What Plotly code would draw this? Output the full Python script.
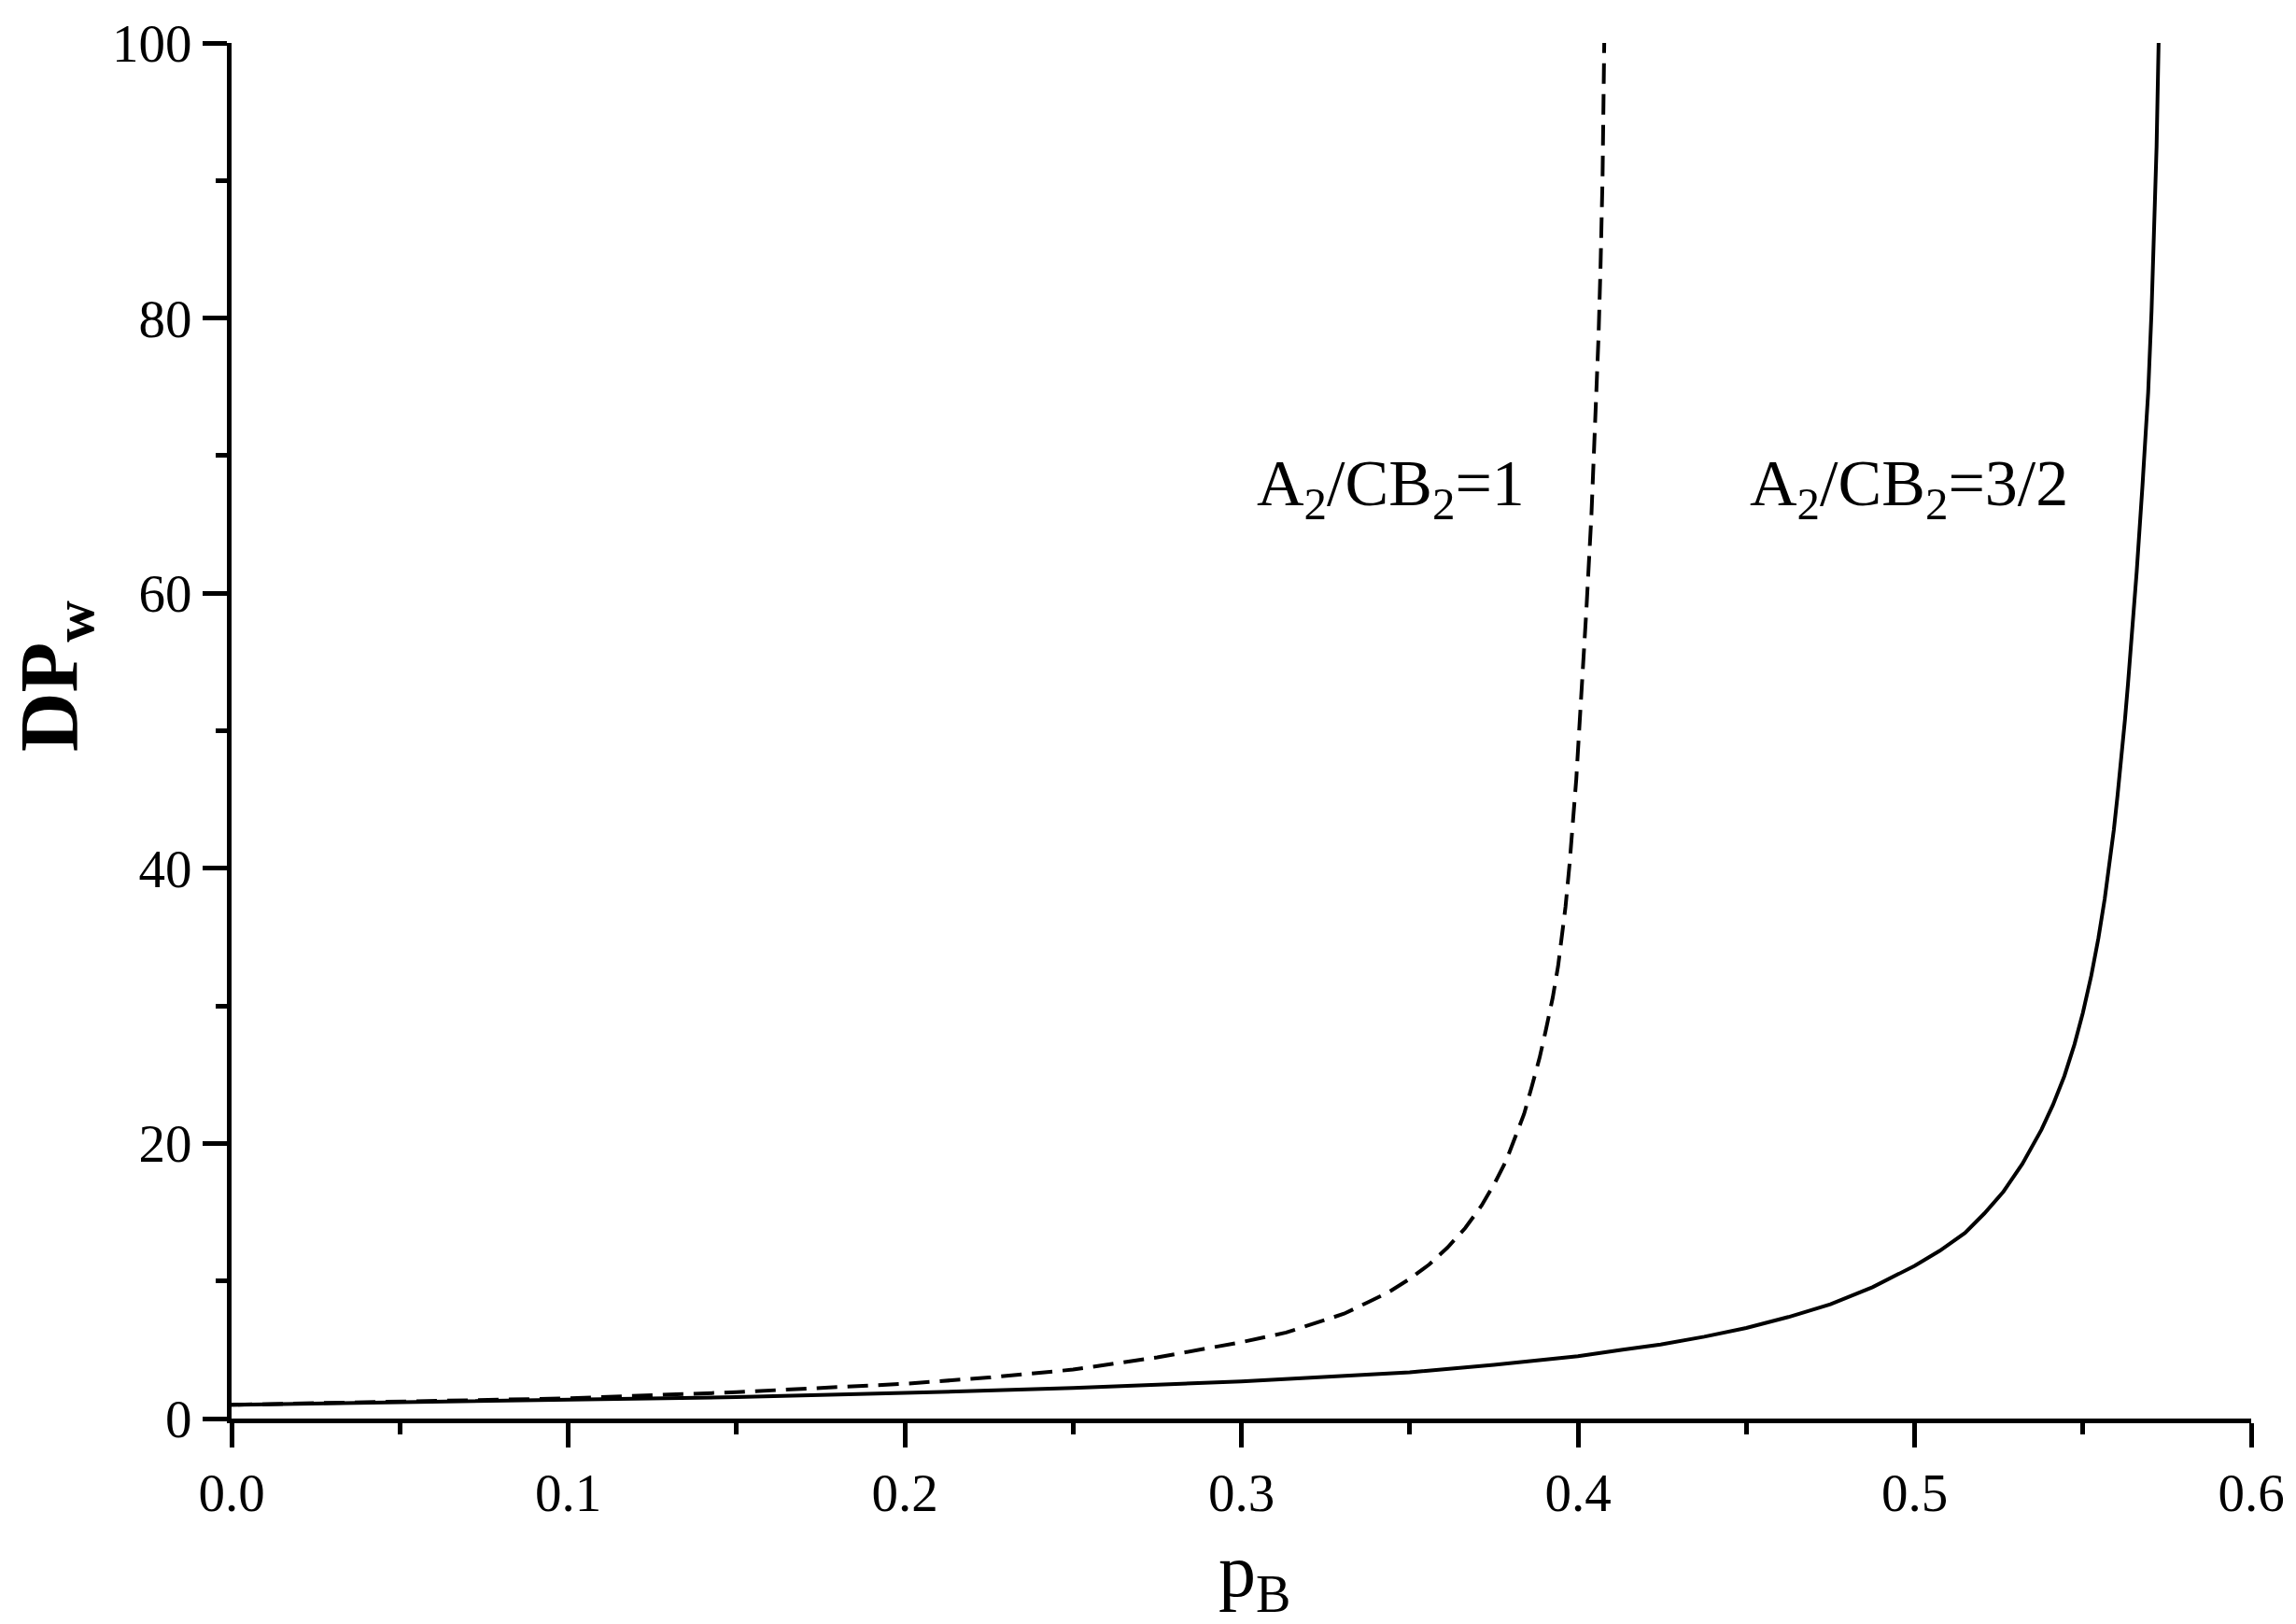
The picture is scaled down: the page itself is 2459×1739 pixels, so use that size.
import plotly.graph_objects as go

# A2/CB2 = 1 (dashed)
p_ratio1 = [0.0, 0.05, 0.10, 0.15, 0.20, 0.225, 0.25, 0.275, 0.30, 0.3133, 0.3237, 0.3305,
            0.3373, 0.3439, 0.3498, 0.3558, 0.3612, 0.3665, 0.3714, 0.3753, 0.3787, 0.3815,
            0.3840, 0.3863, 0.3886, 0.3904, 0.3925, 0.3941, 0.3953, 0.3963, 0.3975, 0.3986,
            0.3995, 0.4003, 0.4013, 0.4025, 0.4040, 0.4053, 0.4061, 0.4067, 0.4073, 0.4078]
dp_ratio1 = [1.0, 1.22, 1.47, 1.92, 2.53, 2.98, 3.56, 4.45, 5.55, 6.25, 7.06, 7.62,
             8.42, 9.21, 10.12, 11.2, 12.42, 13.85, 15.5, 17.13, 18.76, 20.52,
             22.15, 24.15, 26.23, 28.17, 30.6, 32.9, 35.0, 37.2, 40.3, 43.4,
             46.5, 49.8, 53.8, 58.8, 65.7, 72.8, 78.6, 83.7, 90.2, 100.0]

# A2/CB2 = 3/2 (solid)
p_ratio15 = [0.0, 0.05, 0.10, 0.15, 0.20, 0.25, 0.30, 0.325, 0.35, 0.375, 0.40, 0.4133,
             0.4245, 0.4375, 0.45, 0.4625, 0.475, 0.4875, 0.50, 0.5075, 0.515, 0.5207,
             0.5264, 0.532, 0.5377, 0.5411, 0.5445, 0.5475, 0.55, 0.5525, 0.5546, 0.5565,
             0.558, 0.5592, 0.5603, 0.5614, 0.5625, 0.5634, 0.5642, 0.5651, 0.5660, 0.5677,
             0.5694, 0.5704, 0.5713, 0.5719, 0.5725]
dp_ratio15 = [1.0, 1.18, 1.33, 1.56, 1.86, 2.22, 2.7, 3.0, 3.36, 3.9, 4.53, 5.0,
              5.38, 5.95, 6.59, 7.38, 8.31, 9.55, 11.1, 12.2, 13.5, 14.9,
              16.5, 18.5, 21.0, 22.8, 24.9, 27.2, 29.5, 32.2, 34.9, 37.8,
              40.5, 42.8, 45.3, 47.9, 50.8, 53.4, 55.8, 58.6, 61.6, 67.8,
              74.6, 80.5, 87.0, 92.5, 100.0]

labels = ["A<sub>2</sub>/CB<sub>2</sub>=1", "A<sub>2</sub>/CB<sub>2</sub>=3/2"]
label_x = [0.3443, 0.4983]
label_y = [67.6, 67.6]

x_ticks = [0.0, 0.1, 0.2, 0.3, 0.4, 0.5, 0.6]
y_ticks = [0, 20, 40, 60, 80, 100]

FONT = "Liberation Serif"
OFF = 8  # default page body margin
W, H = 2459 - OFF, 1739 - OFF
# plot area in page pixels
PL, PR, PT, PB = 248, 2411, 46, 1519
L, T = PL - OFF, PT - OFF
R, B = W - (PR - OFF), H - (PB - OFF)
pw, ph = PR - PL, PB - PT

fig = go.Figure()
fig.add_trace(go.Scatter(x=p_ratio1, y=dp_ratio1, mode="lines",
                         line=dict(color="black", width=4, dash="22px,11px"), showlegend=False))
fig.add_trace(go.Scatter(x=p_ratio15, y=dp_ratio15, mode="lines",
                         line=dict(color="black", width=4), showlegend=False))

for t, xx, yy in zip(labels, label_x, label_y):
    fig.add_annotation(x=xx, y=yy, text=t, showarrow=False, xanchor="center", yanchor="middle",
                       font=dict(family=FONT, size=70, color="black"))

# axis titles
fig.add_annotation(xref="paper", yref="paper", x=(58 - PL) / pw, y=(PB - 724) / ph,
                   text="<b>DP<sub>w</sub></b>", textangle=-90, showarrow=False,
                   xanchor="center", yanchor="middle",
                   font=dict(family=FONT, size=88, color="black"))
fig.add_annotation(xref="paper", yref="paper", x=(1343 - PL) / pw, y=(PB - 1688) / ph,
                   text="p<sub>B</sub>", showarrow=False, xanchor="center", yanchor="middle",
                   font=dict(family=FONT, size=80, color="black"))

axis_common = dict(showgrid=False, zeroline=False, showline=True, linecolor="black", linewidth=5,
                   ticks="outside", ticklen=26, tickwidth=5, tickcolor="black",
                   tickfont=dict(family=FONT, size=57, color="black"))

fig.update_xaxes(range=[0, 0.6], tickvals=x_ticks, ticktext=[f"{v:.1f}" for v in x_ticks],
                 minor=dict(dtick=0.05, ticks="outside", ticklen=12, tickwidth=5, tickcolor="black"),
                 **axis_common)
fig.update_yaxes(range=[0, 100], tickvals=y_ticks, ticktext=[str(v) for v in y_ticks],
                 minor=dict(dtick=10, ticks="outside", ticklen=12, tickwidth=5, tickcolor="black"),
                 **axis_common)

fig.update_layout(width=W, height=H, margin=dict(l=L, r=R, t=T, b=B, autoexpand=False),
                  paper_bgcolor="white", plot_bgcolor="white",
                  font=dict(family=FONT, color="black"))

fig.write_html("out.html")
